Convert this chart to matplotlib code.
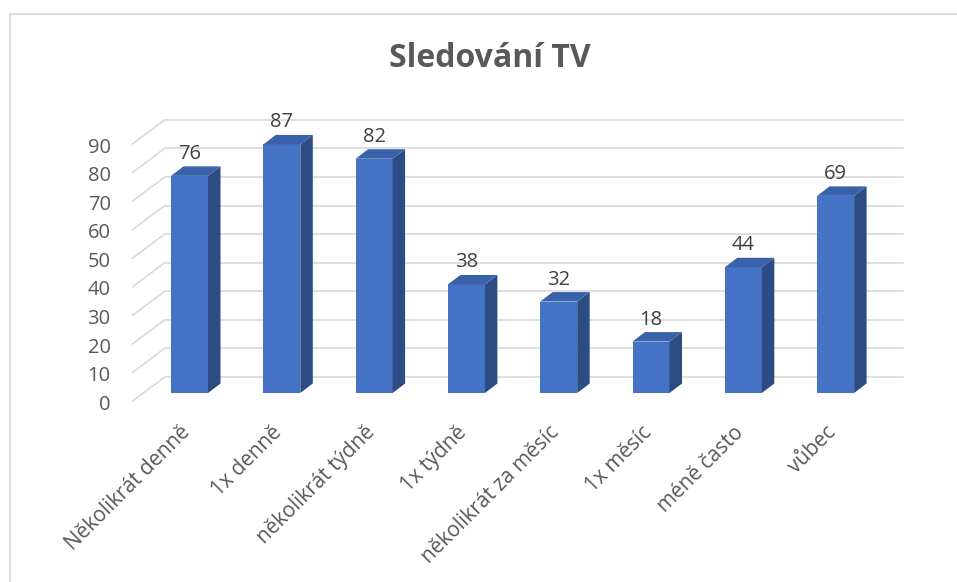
import numpy as np
import matplotlib.pyplot as plt
from matplotlib.patches import Polygon
from matplotlib.lines import Line2D

plt.rcParams['font.family'] = ['Open Sans', 'DejaVu Sans']

categories = ['Několikrát denně', '1x denně', 'několikrát týdně', '1x týdně',
              'několikrát za měsíc', '1x měsíc', 'méně často', 'vůbec']
values = [76, 87, 82, 38, 32, 18, 44, 69]
yticks = [0, 10, 20, 30, 40, 50, 60, 70, 80, 90]
title = 'Sledování TV'

W, H = 957, 582
PX_X = 92.3      # pixels per category
PX_Y = 2.857     # pixels per value unit
X0, Y0 = 189.5, 393.0   # pixel of first bar centre / bar base

front = '#4472C4'
top_c = '#3A62AA'
side_c = '#2C4C84'
grid_c = '#D9D9D9'
text_c = '#595959'

fig = plt.figure(figsize=(W / 100, H / 100), dpi=100)
ax = fig.add_axes([0, 0, 1, 1])
ax.set_xlim(-X0 / PX_X, (W - X0) / PX_X)
ax.set_ylim((Y0 - H) / PX_Y, Y0 / PX_Y)
ax.axis('off')

# depth offsets (in data units)
bw = 37 / PX_X
bdx, bdy = 12.5 / PX_X, 9.5 / PX_Y        # bar depth
wdx, wdy = 21.3 / PX_X, 16 / PX_Y         # back wall behind bar plane
fdx, fdy = -10.7 / PX_X, -8 / PX_Y        # front floor edge
left, right = -0.5, len(values) - 0.5

# gridlines: back wall + side wall
for v in yticks:
    ax.plot([left + wdx, right + wdx], [v + wdy, v + wdy], color=grid_c, lw=1.2, zorder=1)
    ax.plot([left + fdx, left + wdx], [v + fdy, v + wdy], color=grid_c, lw=1.2, zorder=1)
    ax.text(left + fdx - 22 / PX_X, v + fdy - 8.7 / PX_Y, str(v), ha='right', va='baseline',
            fontsize=14.5, color=text_c)

x = np.arange(len(values))
ax.bar(x, values, width=bw, color=front, zorder=3)
for xi, v in zip(x, values):
    xl, xr = xi - bw / 2, xi + bw / 2
    ax.add_patch(Polygon([(xr, 0), (xr + bdx, bdy), (xr + bdx, v + bdy), (xr, v)],
                         closed=True, facecolor=side_c, edgecolor='none', zorder=3))
    ax.add_patch(Polygon([(xl, v), (xr, v), (xr + bdx, v + bdy), (xl + bdx, v + bdy)],
                         closed=True, facecolor=top_c, edgecolor='none', zorder=3))
    ax.text(xi, v + 17 / PX_Y, str(v), ha='center', va='baseline', fontsize=14.5,
            color='#404040', zorder=4)

for xi, lab in zip(x, categories):
    ax.text(xi - 10 / PX_X, (Y0 - 422) / PX_Y, lab, rotation=45, rotation_mode='anchor',
            ha='right', va='top', fontsize=15, color=text_c)

fig.text(490 / W, 1 - 67 / H, title, ha='center', va='baseline', fontsize=23,
         fontweight='bold', color=text_c)

# chart frame (left and top edges visible)
fig.add_artist(Line2D([9.5 / W, 9.5 / W], [0, 1 - 13.5 / H], color=grid_c, lw=1.2))
fig.add_artist(Line2D([9.5 / W, 1], [1 - 13.5 / H, 1 - 13.5 / H], color=grid_c, lw=1.2))

fig.savefig('out.png', dpi=100, facecolor='white')
